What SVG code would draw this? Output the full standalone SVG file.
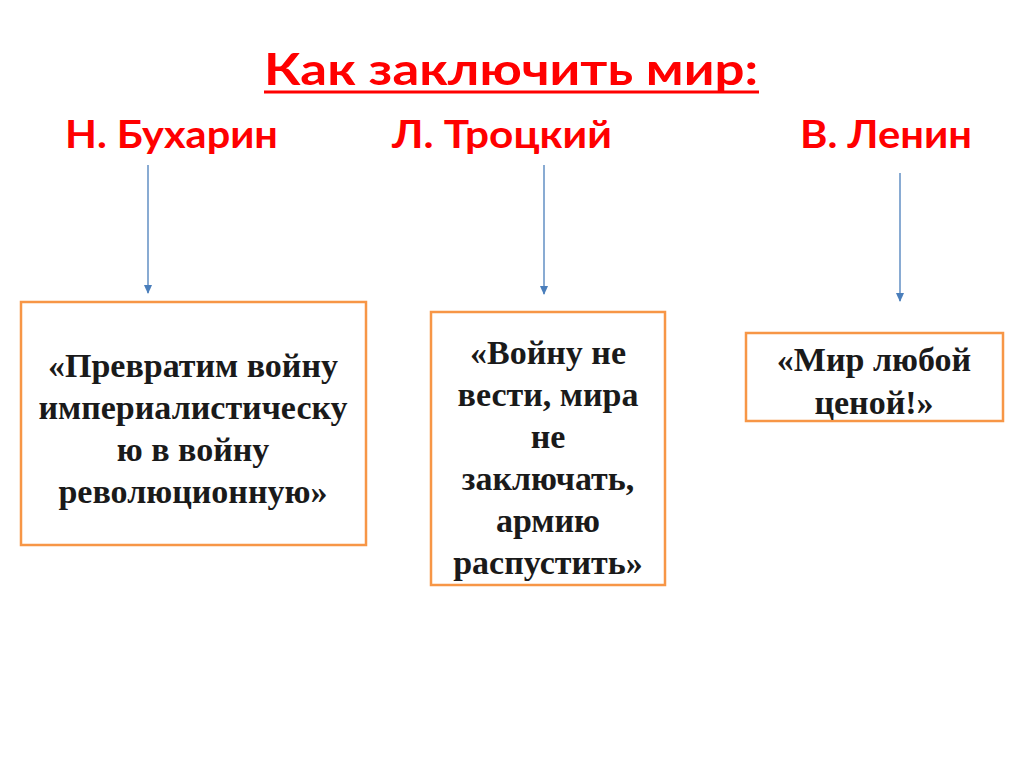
<svg xmlns="http://www.w3.org/2000/svg" width="1024" height="767" viewBox="0 0 1024 767">
<style>
.t{font-family:Lato,"Open Sans","Liberation Sans",sans-serif;font-weight:bold;fill:#ff0000}
.b{fill:#fff;stroke:#f79646;stroke-width:2.5}
.q{font-family:"Liberation Serif",serif;font-weight:bold;font-size:34px;fill:#1a1a1a;text-anchor:middle}
.c{stroke:#4a7ebb;stroke-width:1.3;fill:none}
</style>
<defs><marker id="a" markerWidth="10" markerHeight="10" refX="8" refY="5" orient="auto" markerUnits="userSpaceOnUse"><path d="M0,1 L9,5 L0,9 Z" fill="#4a7ebb"/></marker></defs>
<rect width="1024" height="767" fill="#fff"/>
<g id="title"><text class="t" x="264" y="85" font-size="44" textLength="494" lengthAdjust="spacingAndGlyphs">Как заключить мир:</text><line x1="264" y1="92" x2="759" y2="92" stroke="#ff0000" stroke-width="3"/></g>
<g id="names">
<text class="t" x="65" y="148" font-size="38" textLength="213" lengthAdjust="spacingAndGlyphs">Н. Бухарин</text>
<text class="t" x="392" y="148" font-size="38" textLength="220" lengthAdjust="spacingAndGlyphs">Л. Троцкий</text>
<text class="t" x="800" y="148" font-size="38" textLength="172" lengthAdjust="spacingAndGlyphs">В. Ленин</text>
</g>
<g id="connectors">
<line class="c" x1="148" y1="165" x2="148" y2="293" marker-end="url(#a)"/>
<line class="c" x1="544" y1="165" x2="544" y2="294" marker-end="url(#a)"/>
<line class="c" x1="900" y1="173" x2="900" y2="301" marker-end="url(#a)"/>
</g>
<g id="bukharin"><rect class="b" x="21" y="302" width="345" height="243"/>
<text class="q" x="193" y="377">«Превратим войну</text><text class="q" x="193" y="419">империалистическу</text><text class="q" x="193" y="461">ю в войну</text><text class="q" x="193" y="503">революционную»</text></g>
<g id="trotsky"><rect class="b" x="431" y="312" width="234" height="273"/>
<text class="q" x="548" y="364">«Войну не</text><text class="q" x="548" y="406">вести, мира</text><text class="q" x="548" y="448">не</text><text class="q" x="548" y="490">заключать,</text><text class="q" x="548" y="532">армию</text><text class="q" x="548" y="574">распустить»</text></g>
<g id="lenin"><rect class="b" x="746" y="333" width="257" height="88"/>
<text class="q" x="874" y="371">«Мир любой</text><text class="q" x="874" y="414">ценой!»</text></g>
</svg>
